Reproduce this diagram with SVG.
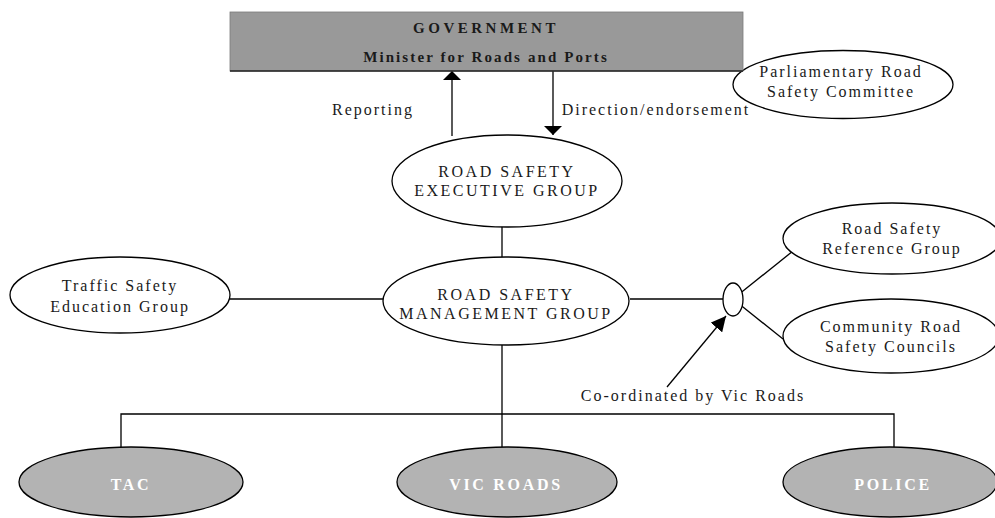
<svg xmlns="http://www.w3.org/2000/svg" width="995" height="518" viewBox="0 0 995 518">
<style>
.lbl{font-family:"Liberation Serif","Times New Roman",serif;font-size:16px;fill:#1a1a1a;text-anchor:middle;letter-spacing:2px}
.cap{letter-spacing:2.5px}
.wht{font-family:"Liberation Serif","Times New Roman",serif;font-size:16px;font-weight:bold;fill:#ffffff;text-anchor:middle;letter-spacing:2.7px}
.gov{font-family:"Liberation Serif","Times New Roman",serif;font-size:15px;font-weight:bold;fill:#1a1a1a;text-anchor:middle}
.node{fill:#ffffff;stroke:#000;stroke-width:1.3}
.gnode{fill:#b3b3b3;stroke:#000;stroke-width:1.3}
.conn{stroke:#000;stroke-width:1.3;fill:none}
</style>
<defs>
<marker id="ah" viewBox="0 0 10 20" refX="10" refY="10" markerWidth="9" markerHeight="18" markerUnits="userSpaceOnUse" orient="auto">
<path d="M0,0 L10,10 L0,20 Z" fill="#000"/>
</marker>
<marker id="ah2" viewBox="0 0 14 14" refX="14" refY="7" markerWidth="15" markerHeight="15" markerUnits="userSpaceOnUse" orient="auto">
<path d="M0,0 L14,7 L0,14 Z" fill="#000"/>
</marker>
</defs>
<g id="connectors">
<line class="conn" x1="452" y1="136" x2="452" y2="71" marker-end="url(#ah)"/>
<line class="conn" x1="553" y1="71" x2="553" y2="135" marker-end="url(#ah)"/>
<line class="conn" x1="502" y1="226" x2="502" y2="257"/>
<line class="conn" x1="230" y1="299" x2="383" y2="299"/>
<line class="conn" x1="630" y1="299" x2="733" y2="299"/>
<line class="conn" x1="733" y1="299" x2="793" y2="251"/>
<line class="conn" x1="733" y1="299" x2="783" y2="339"/>
<line class="conn" x1="667" y1="387" x2="726" y2="316" marker-end="url(#ah2)"/>
<line class="conn" x1="502" y1="345" x2="502" y2="447"/>
<polyline class="conn" points="121,447 121,414 894,414 894,447"/>
</g>
<g id="parliamentary">
<ellipse class="node" cx="843" cy="84.5" rx="110" ry="34"/>
<text class="lbl" x="841" y="77">Parliamentary Road</text>
<text class="lbl" x="841" y="97">Safety Committee</text>
</g>
<g id="government">
<rect x="230" y="12" width="513" height="59" fill="#999999" stroke="#7a7a7a" stroke-width="0.8"/>
<line x1="230" y1="71" x2="743" y2="71" stroke="#222" stroke-width="1.5"/>
<text class="gov" x="486" y="33" style="letter-spacing:3.5px">GOVERNMENT</text>
<text class="gov" x="486" y="62" style="letter-spacing:2.1px">Minister for Roads and Ports</text>
</g>
<g id="labels">
<text class="lbl" x="373" y="115">Reporting</text>
<text class="lbl" x="656" y="115">Direction/endorsement</text>
<text class="lbl" x="693" y="401">Co-ordinated by Vic Roads</text>
</g>
<g id="exec">
<ellipse class="node" cx="507" cy="181" rx="115" ry="46"/>
<text class="lbl cap" x="507" y="177">ROAD SAFETY</text>
<text class="lbl cap" x="507" y="196">EXECUTIVE GROUP</text>
</g>
<g id="traffic">
<ellipse class="node" cx="120" cy="295" rx="110" ry="38"/>
<text class="lbl" x="120" y="291">Traffic Safety</text>
<text class="lbl" x="120" y="312">Education Group</text>
</g>
<g id="management">
<ellipse class="node" cx="506" cy="301" rx="123" ry="44"/>
<text class="lbl cap" x="506" y="300">ROAD SAFETY</text>
<text class="lbl cap" x="506" y="319">MANAGEMENT GROUP</text>
</g>
<g id="hub">
<ellipse class="node" cx="733" cy="299.5" rx="10" ry="16.5"/>
</g>
<g id="reference">
<ellipse class="node" cx="892" cy="238.5" rx="109" ry="35.5"/>
<text class="lbl" x="892" y="234">Road Safety</text>
<text class="lbl" x="892" y="254">Reference Group</text>
</g>
<g id="community">
<ellipse class="node" cx="891" cy="336" rx="108" ry="37"/>
<text class="lbl" x="891" y="332">Community Road</text>
<text class="lbl" x="891" y="352">Safety Councils</text>
</g>
<g id="tac">
<ellipse class="gnode" cx="131" cy="482" rx="112" ry="35"/>
<text class="wht" x="131" y="490">TAC</text>
</g>
<g id="vicroads">
<ellipse class="gnode" cx="507" cy="482" rx="110" ry="35"/>
<text class="wht" x="506" y="490">VIC ROADS</text>
</g>
<g id="police">
<ellipse class="gnode" cx="890" cy="482" rx="107" ry="35"/>
<text class="wht" x="893" y="490">POLICE</text>
</g>
</svg>
